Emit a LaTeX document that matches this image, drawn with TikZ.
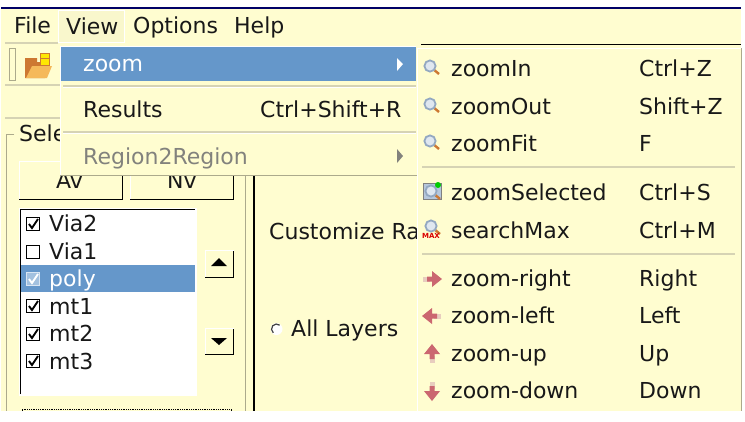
\documentclass[tikz,border=0pt]{standalone}
\usepackage{fontspec}
\setmainfont{DejaVu Sans}
\usetikzlibrary{positioning}
\definecolor{panelcream}{RGB}{255,253,208}
\definecolor{menublue}{RGB}{101,151,202}
\definecolor{darktext}{RGB}{24,24,24}
\definecolor{greytext}{RGB}{130,130,125}
\definecolor{sepgrey}{RGB}{214,211,180}
\definecolor{edgegrey}{RGB}{172,170,140}
\definecolor{arrowred}{RGB}{203,103,112}
\definecolor{arrowpale}{RGB}{232,205,190}
\definecolor{lensblue}{RGB}{150,175,205}
\definecolor{folderdark}{RGB}{205,120,50}
\definecolor{folderlight}{RGB}{245,185,90}
\tikzset{
    menutxt/.style={anchor=base west, inner sep=0pt, text=darktext, font=\fontsize{22}{24}\selectfont},
    graytxt/.style={menutxt, text=greytext},
    whitetxt/.style={menutxt, text=white},
    sepline/.style={draw=sepgrey, line width=1.6pt},
    checkbox/.style={draw=black, fill=white, line width=1pt, minimum size=13pt, inner sep=0pt},
    checkmark/.style={line width=1.9pt, black},
    btnbox/.style={draw=white, fill=panelcream, line width=1pt, inner sep=0pt},
}
% small magnifier, centre of the lens at #1,#2
\newcommand{\lensicon}[2]{
    \draw[folderdark, line width=2.4pt] (#1+3,#2+3) -- (#1+9,#2+8);
    \draw[lensblue!85!gray, fill=lensblue!30, line width=1.8pt] (#1,#2) circle (5.6);
}
% pink arrow, centre at #1,#2, direction #3
\newcommand{\arrowicon}[3]{
    \begin{scope}[shift={(#1,#2)}, rotate=#3]
        \fill[arrowpale] (-10,-2.5) rectangle (-3,2.5);
        \fill[arrowred] (-6,-2.5) -- (-1,-2.5) -- (-1,-8) -- (9,0) -- (-1,8) -- (-1,2.5) -- (-6,2.5) -- cycle;
    \end{scope}
}
\begin{document}
\begin{tikzpicture}[x=1pt, y=-1pt]
    \useasboundingbox (0,0) rectangle (745,421);
    % Background
    \fill[white] (0,0) rectangle (745,421);
    \fill[panelcream] (1,9) rectangle (741,411);
    \fill[black!60!blue] (1,7) rectangle (741,9);

    % Menu bar
    \draw[draw=white, fill=panelcream!95!gray, line width=1pt] (58,10) rectangle (124,42);
    \node[menutxt] (filemenu) at (14,33) {File};
    \node[menutxt] (viewmenu) at (66,34) {View};
    \node[menutxt] (optionsmenu) at (133,33) {Options};
    \node[menutxt] (helpmenu) at (234,33) {Help};

    % Toolbar
    \draw[sepline] (5,43) -- (58,43);
    \draw[sepline] (5,85) -- (60,85);
    \draw[sepline] (5,118) -- (60,118);
    \draw[draw=edgegrey, fill=panelcream, line width=.8pt] (9,48) rectangle (15,80);
    \fill[folderdark] (25,58) -- (37,58) -- (37,62) -- (45,62) -- (45,78) -- (25,78) -- cycle;
    \fill[folderlight] (26,78) -- (47,78) -- (52,66) -- (32,66) -- cycle;
    \draw[folderdark, fill=yellow!90!orange, line width=.8pt] (40,53) rectangle (49,65);
    \draw[folderdark, line width=.8pt] (40,58) -- (49,58);

    % Group box
    \draw[draw=edgegrey, line width=.8pt] (14,134) -- (6,134) -- (6,411);
    \node[menutxt] (selectlabel) at (19,141) {Select};
    \draw[btnbox] (19,161) rectangle (122,199);
    \draw[black] (19,199) -- (122,199) -- (122,176);
    \draw[btnbox] (130,161) rectangle (233,199);
    \draw[black] (130,199) -- (233,199) -- (233,176);
    \node[menutxt] (avbtn) at (56,188) {Av};
    \node[menutxt] (nvbtn) at (167,188) {Nv};
    \draw[draw=edgegrey, line width=.8pt] (245,170) -- (245,411);
    \draw[black, line width=1.6pt] (254,175) -- (254,411);

    % Layer list
    \fill[white] (19,208) rectangle (197,396);
    \draw[black, line width=1pt] (20.5,394) -- (20.5,209.5) -- (195,209.5);
    \fill[menublue] (21,265) rectangle (195,292);
    \node[checkbox] (boxvia) at (33,224) {};
    \node[checkbox] (boxviaone) at (33,252) {};
    \node[checkbox, draw=white!75!menublue, fill=menublue!60!white] (boxpoly) at (33,279) {};
    \node[checkbox] (boxmta) at (33,306) {};
    \node[checkbox] (boxmtb) at (33,334) {};
    \node[checkbox] (boxmtc) at (33,361) {};
    \draw[checkmark] (29,224) -- (32,228) -- (38,219);
    \draw[checkmark, white] (29,279) -- (32,283) -- (38,274);
    \draw[checkmark] (29,306) -- (32,310) -- (38,301);
    \draw[checkmark] (29,334) -- (32,338) -- (38,329);
    \draw[checkmark] (29,361) -- (32,365) -- (38,356);
    \node[menutxt] (via) at (49,231) {Via2};
    \node[menutxt] (viaone) at (49,259) {Via1};
    \node[whitetxt] (poly) at (49,286) {poly};
    \node[menutxt] (mta) at (49,314) {mt1};
    \node[menutxt] (mtb) at (49,341) {mt2};
    \node[menutxt] (mtc) at (49,369) {mt3};

    % Up and down buttons
    \draw[draw=white, fill=panelcream, line width=1pt] (205,250) rectangle (233,277);
    \draw[black] (205,277) -- (233,277) -- (233,251);
    \fill[black] (211,266) -- (219,258) -- (227,266) -- cycle;
    \draw[draw=white, fill=panelcream, line width=1pt] (205,328) rectangle (233,354);
    \draw[black] (205,354) -- (233,354) -- (233,329);
    \fill[black] (211,338) -- (219,345) -- (227,338) -- cycle;
    \draw[draw=black, densely dotted, line width=.8pt] (22,411) -- (22,409) -- (231,409) -- (231,411);

    % Right panel
    \node[menutxt] (customize) at (269,239) {Customize Ra};
    \fill[white] (276.5,329) circle (6);
    \draw[black!75, line width=1.2pt] (276.5,329) ++(-50:5) arc (-50:-230:5);
    \node[menutxt] (alllayers) at (291,336) {All Layers};

    % View menu
    \fill[panelcream] (60,46) rectangle (416,175);
    \draw[white, line width=1pt] (60.5,175) -- (60.5,46) -- (416,46);
    \draw[edgegrey, line width=1.2pt] (60,175.5) -- (417,175.5);
    \fill[menublue] (61,47) rectangle (416,81);
    \node[whitetxt] (zoomitem) at (83,71) {zoom};
    \fill[white] (397,58) -- (403,64) -- (397,71) -- cycle;
    \draw[sepline] (63,86) -- (416,86);
    \draw[white, line width=.8pt] (63,87.5) -- (416,87.5);
    \node[menutxt] (results) at (83,117) {Results};
    \node[menutxt] (resultskey) at (260,117) {Ctrl+Shift+R};
    \draw[sepline] (63,132) -- (416,132);
    \draw[white, line width=.8pt] (63,133.5) -- (416,133.5);
    \node[graytxt] (regionitem) at (83,164) {Region2Region};
    \fill[greytext] (397,149) -- (403,156) -- (397,163) -- cycle;

    % Zoom submenu
    \draw[black, line width=1pt] (421,44) -- (741,44);
    \fill[panelcream] (417,46) rectangle (741,411);
    \draw[white, line width=1pt] (417.5,411) -- (417.5,48) -- (741,48);
    \draw[edgegrey, line width=.8pt] (741,48) -- (741,411);
    \lensicon{430}{66}
    \lensicon{430}{104}
    \lensicon{430}{141}
    \node[menutxt] (zoomin) at (451,76) {zoomIn};
    \node[menutxt] (zoomout) at (451,114) {zoomOut};
    \node[menutxt] (zoomfit) at (451,151) {zoomFit};
    \node[menutxt] (zoominkey) at (639,76) {Ctrl+Z};
    \node[menutxt] (zoomoutkey) at (639,114) {Shift+Z};
    \node[menutxt] (zoomfitkey) at (639,151) {F};
    \draw[sepline] (422,167) -- (735,167);

    \fill[lensblue!70] (423,183) rectangle (441,199);
    \draw[black!50, line width=.8pt] (423,183) rectangle (441,199);
    \lensicon{431}{191}
    \fill[green!80!black] (438,185) circle (3);
    \lensicon{431}{226}
    \node[font=\bfseries\fontsize{7}{7}\selectfont, text=red!85!black, inner sep=0pt] (maxlabel) at (431,236) {MAX};
    \node[menutxt] (zoomselected) at (451,200) {zoomSelected};
    \node[menutxt] (searchmax) at (451,238) {searchMax};
    \node[menutxt] (zoomselectedkey) at (639,200) {Ctrl+S};
    \node[menutxt] (searchmaxkey) at (639,238) {Ctrl+M};
    \draw[sepline] (422,254) -- (735,254);

    \arrowicon{433}{279}{0}
    \arrowicon{431}{316}{180}
    \arrowicon{432}{353}{90}
    \arrowicon{432}{392}{-90}
    \node[menutxt] (zoomright) at (451,286) {zoom-right};
    \node[menutxt] (zoomleft) at (451,323) {zoom-left};
    \node[menutxt] (zoomup) at (451,361) {zoom-up};
    \node[menutxt] (zoomdown) at (451,398) {zoom-down};
    \node[menutxt] (rightkey) at (639,286) {Right};
    \node[menutxt] (leftkey) at (639,323) {Left};
    \node[menutxt] (upkey) at (639,361) {Up};
    \node[menutxt] (downkey) at (639,398) {Down};
\end{tikzpicture}
\end{document}
